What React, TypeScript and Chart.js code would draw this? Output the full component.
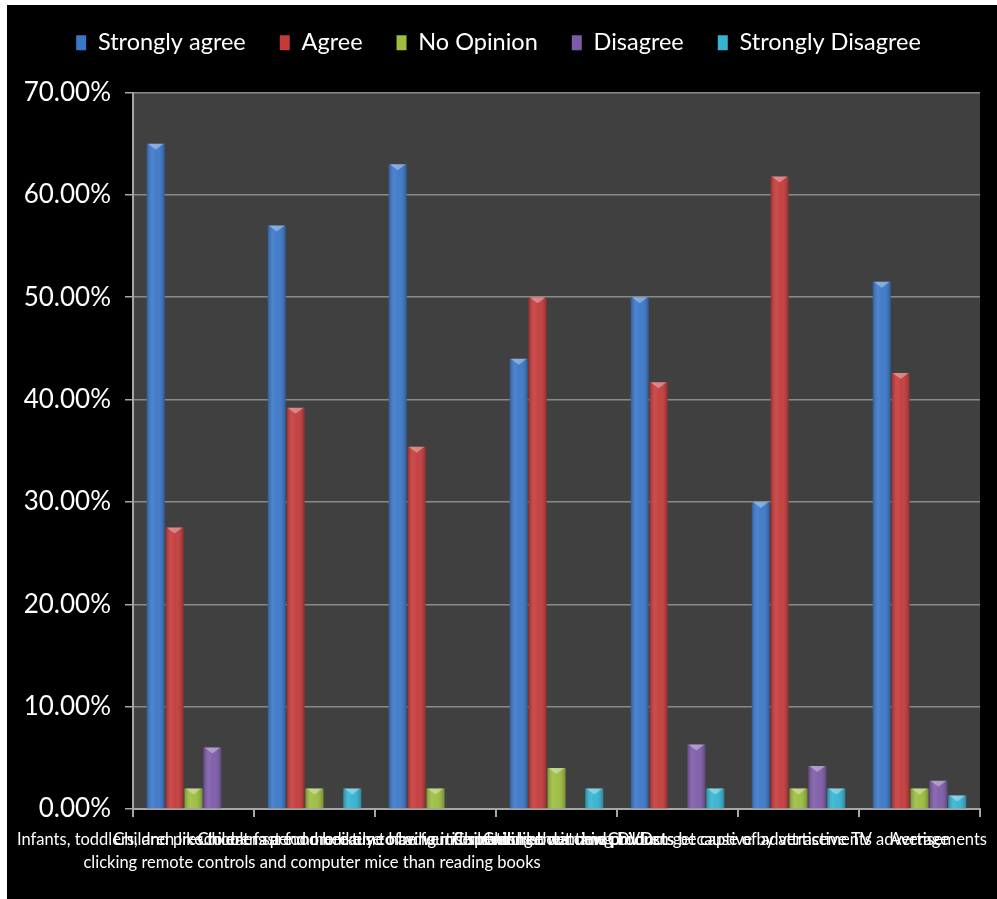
import React, { useEffect, useRef } from "react";
import { Chart, registerables } from "chart.js";

Chart.register(...registerables);

const categories: (string | string[])[] = [
  [
    "Infants, toddlers, and preschoolers are more likely to be found spending their time",
    "clicking remote controls and computer mice than reading books",
  ],
  "Children like to eat fast food because of advertisements",
  "Children spend more time having information about new products",
  "Children like watching DVDs",
  "Children demand products because of advertisements",
  "Children get captive by attractive TV advertisements",
  "Average",
];

const seriesNames = ["Strongly agree", "Agree", "No Opinion", "Disagree", "Strongly Disagree"];
const stronglyAgree = [65, 57, 63, 44, 50, 30, 51.5];
const agree = [27.5, 39.2, 35.4, 50, 41.7, 61.8, 42.6];
const noOpinion = [2, 2, 2, 4, 0, 2, 2];
const disagree = [6, 0, 0, 0, 6.3, 4.2, 2.75];
const stronglyDisagree = [0, 2, 0, 2, 2, 2, 1.33];
const yTicks = [0, 10, 20, 30, 40, 50, 60, 70];

const colors = ["#3a77c8", "#c43a3a", "#9cbd3f", "#7e5ba9", "#35b3d1"];

const FONT = "Lato, 'Open Sans', sans-serif";

export default function App() {
  const ref = useRef<HTMLCanvasElement | null>(null);
  useEffect(() => {
    if (!ref.current) return;
    const values = [stronglyAgree, agree, noOpinion, disagree, stronglyDisagree];
    const plotBg = {
      id: "plotBg",
      beforeDraw(chart: any) {
        const { ctx, chartArea } = chart;
        ctx.save();
        ctx.fillStyle = "#404040";
        ctx.fillRect(chartArea.left, chartArea.top, chartArea.right - chartArea.left, chartArea.bottom - chartArea.top);
        ctx.restore();
      },
    };
    const bevel = {
      id: "bevel",
      afterDatasetsDraw(chart: any) {
        const { ctx } = chart;
        ctx.save();
        chart.data.datasets.forEach((_: any, di: number) => {
          const meta = chart.getDatasetMeta(di);
          meta.data.forEach((bar: any) => {
            const { x, y, base, width } = bar.getProps(["x", "y", "base", "width"], true);
            const h = base - y;
            if (h < 1) return;
            const l = x - width / 2;
            const g = ctx.createLinearGradient(l, 0, l + width, 0);
            g.addColorStop(0, "rgba(0,0,0,0.22)");
            g.addColorStop(0.3, "rgba(255,255,255,0.10)");
            g.addColorStop(0.55, "rgba(255,255,255,0.04)");
            g.addColorStop(1, "rgba(0,0,0,0.25)");
            ctx.fillStyle = g;
            ctx.fillRect(l, y, width, h);
            const capH = Math.min(6, h);
            ctx.fillStyle = "rgba(255,255,255,0.35)";
            ctx.beginPath();
            ctx.moveTo(l + 1, y);
            ctx.lineTo(l + width - 1, y);
            ctx.lineTo(x, y + capH);
            ctx.closePath();
            ctx.fill();
          });
        });
        ctx.restore();
      },
    };
    const legendGap = {
      id: "legendGap",
      beforeInit(chart: any) {
        const legend = chart.legend;
        const origFit = legend.fit;
        legend.fit = function () {
          origFit.call(legend);
          legend.height += 20;
        };
        const origDraw = legend.draw;
        legend.draw = function () {
          const ctx = chart.ctx;
          ctx.save();
          ctx.translate(0, -8);
          origDraw.call(legend);
          ctx.restore();
        };
      },
    };
    const xLabels = {
      id: "xLabels",
      afterDraw(chart: any) {
        const { ctx } = chart;
        const xs = chart.scales.x;
        const W = chart.width;
        ctx.save();
        ctx.font = `16.5px ${FONT}`;
        ctx.fillStyle = "#ffffff";
        ctx.textBaseline = "middle";
        ctx.textAlign = "center";
        categories.forEach((lab, i) => {
          const lines = Array.isArray(lab) ? lab : [lab];
          const w = Math.max(...lines.map((l) => ctx.measureText(l).width));
          const cx = xs.getPixelForTick(i);
          let left = cx - w / 2;
          if (left < 10) left = 10;
          if (left + w > W - 10) left = W - 10 - w;
          lines.forEach((l, j) => {
            ctx.fillText(l, left + w / 2, xs.top + 31 + j * 23);
          });
        });
        ctx.restore();
      },
    };
    const chart = new Chart(ref.current, {
      type: "bar",
      data: {
        labels: categories.map((c) => (Array.isArray(c) ? c.join(" ") : c)),
        datasets: seriesNames.map((name, i) => ({
          label: name,
          data: values[i],
          backgroundColor: colors[i],
          borderWidth: 0,
          categoryPercentage: 0.78,
          barPercentage: 0.95,
        })),
      },
      options: {
        responsive: false,
        animation: false,
        layout: { padding: { left: 10, right: 17, top: 0, bottom: 0 } },
        plugins: {
          legend: {
            position: "top",
            labels: {
              color: "#ffffff",
              font: { family: FONT, size: 23.5 },
              boxWidth: 10,
              boxHeight: 15,
              padding: 34,
            },
          },
          tooltip: { enabled: false },
        },
        scales: {
          x: {
            grid: {
              offset: true,
              drawOnChartArea: false,
              drawTicks: true,
              tickLength: 8,
              tickColor: "#a6a6a6",
              lineWidth: 2,
            },
            border: { color: "#a6a6a6", width: 2 },
            ticks: { display: false },
            afterFit: (s: any) => {
              s.height = 90;
            },
          },
          y: {
            min: 0,
            max: 70,
            afterBuildTicks: (s: any) => {
              s.ticks = yTicks.map((v) => ({ value: v }));
            },
            ticks: {
              color: "#ffffff",
              font: { family: FONT, size: 26 },
              padding: 14,
              callback: (v: any) => Number(v).toFixed(2) + "%",
            },
            grid: {
              color: "#8a8a8a",
              lineWidth: 1.5,
              tickLength: 8,
              tickColor: "#a6a6a6",
            },
            border: { color: "#a6a6a6", width: 2 },
            afterFit: (s: any) => {
              s.width = 116;
            },
          },
        },
      },
      plugins: [plotBg, bevel, legendGap, xLabels],
    });
    return () => chart.destroy();
  }, []);
  return (
    <div style={{ position: "absolute", left: 7, top: 5, width: 990, height: 894, background: "#000" }}>
      <canvas ref={ref} width={990} height={894} style={{ display: "block" }} />
    </div>
  );
}
